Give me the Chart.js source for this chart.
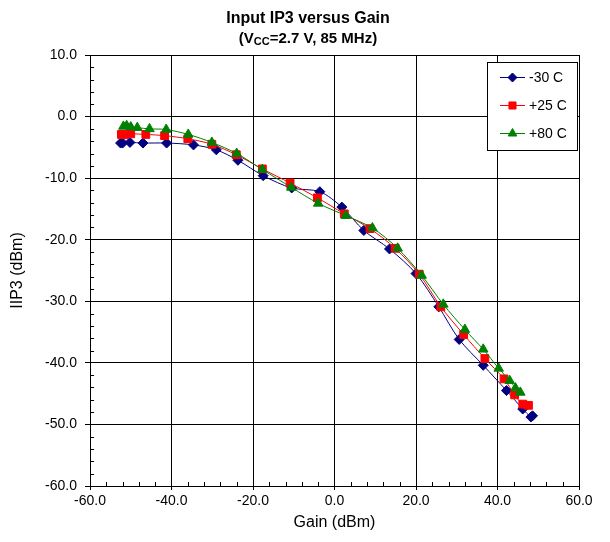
<!DOCTYPE html>
<html>
<head>
<meta charset="utf-8">
<script src="https://cdn.jsdelivr.net/npm/chart.js@4.4.0/dist/chart.umd.min.js"></script>
<style>
  html, body { margin: 0; padding: 0; background: #fff; }
  #wrap { position: relative; width: 610px; height: 542px; font-family: "Liberation Sans", Arial, sans-serif; }
  #c { position: absolute; left: 0; top: 0; }
  .ttl { position: absolute; left: 0; width: 616px; text-align: center; font-weight: bold; color: #000; white-space: nowrap; }
  #t1 { top: 9px; font-size: 16px; line-height: 18px; }
  #t2 { top: 29px; font-size: 15px; line-height: 17px; }
  #t2 sub { font-size: 11px; vertical-align: -2px; line-height: 0; }
</style>
</head>
<body>
<div id="wrap">
  <canvas id="c" width="610" height="542"></canvas>
  <div id="t1" class="ttl">Input IP3 versus Gain</div>
  <div id="t2" class="ttl">(V<sub>CC</sub>=2.7 V, 85 MHz)</div>
</div>
<script>
// ---- data ----
const seriesNames = ["-30 C", "+25 C", "+80 C"];

const gainM30 = [-52.5, -52.0, -50.2, -47.0, -41.2, -34.6, -29.0, -23.7, -17.5, -10.5, -3.6, 1.8, 7.2, 13.5, 20.0, 25.6, 30.6, 36.5, 42.2, 46.2, 48.2, 48.6];
const iip3M30 = [-4.3, -4.3, -4.2, -4.3, -4.3, -4.6, -5.4, -7.1, -9.6, -11.6, -12.2, -14.7, -18.5, -21.5, -25.5, -30.9, -36.2, -40.4, -44.5, -47.5, -48.8, -48.6];

const gainP25 = [-52.3, -51.5, -50.0, -46.3, -41.7, -36.0, -30.1, -24.1, -17.7, -10.9, -4.2, 2.4, 8.7, 14.9, 20.8, 26.1, 31.7, 36.9, 41.6, 44.2, 46.2, 47.6];
const iip3P25 = [-2.9, -2.9, -2.8, -2.9, -3.1, -3.6, -4.5, -6.2, -8.5, -10.8, -13.2, -15.8, -18.2, -21.4, -25.6, -30.9, -35.4, -39.3, -42.6, -45.2, -46.7, -46.9];

const gainP80 = [-51.8, -51.0, -50.0, -48.4, -45.4, -41.3, -35.9, -30.1, -24.0, -17.7, -10.6, -4.0, 2.8, 9.3, 15.5, 21.4, 26.7, 32.0, 36.5, 40.3, 43.0, 44.4, 45.6];
const iip3P80 = [-1.6, -1.5, -1.7, -1.8, -2.0, -2.1, -2.9, -4.2, -6.0, -8.6, -11.5, -14.1, -16.1, -18.1, -21.4, -25.8, -30.5, -34.6, -37.8, -40.9, -42.9, -44.1, -44.8];

const xTicks = [-60, -40, -20, 0, 20, 40, 60];
const yTicks = [10, 0, -10, -20, -30, -40, -50, -60];

function pts(xs, ys) { return xs.map((x, i) => ({ x: x, y: ys[i] })); }

const FONT = '"Liberation Sans", Arial, sans-serif';
const colors = ["#000080", "#FF0000", "#008000"];
const styles = ["rectRot", "rect", "triangle"];
const radii = [5, 5.5, 5.5];

// minor ticks + legend plugin
const extras = {
  id: 'extras',
  afterDraw(chart) {
    const ctx = chart.ctx;
    const xs = chart.scales.x, ys = chart.scales.y;
    const a = chart.chartArea;
    ctx.save();
    ctx.strokeStyle = '#000';
    ctx.lineWidth = 1;
    ctx.beginPath();
    for (let v = -60; v <= 10; v += 2) {
      if (v % 10 === 0) continue;
      const py = Math.round(ys.getPixelForValue(v)) + 0.5;
      ctx.moveTo(a.left, py); ctx.lineTo(a.left + 4, py);
    }
    for (let v = -60; v <= 60; v += 4) {
      if (v % 20 === 0) continue;
      const px = Math.round(xs.getPixelForValue(v)) + 0.5;
      ctx.moveTo(px, a.bottom); ctx.lineTo(px, a.bottom - 4);
    }
    ctx.stroke();

    // legend box
    const bx = 487.5, by = 62.5, bw = 90, bh = 88;
    ctx.fillStyle = '#fff';
    ctx.fillRect(bx, by, bw, bh);
    ctx.strokeStyle = '#000';
    ctx.strokeRect(bx, by, bw, bh);
    chart.data.datasets.forEach((ds, i) => {
      const cy = 77 + i * 28;
      ctx.strokeStyle = ds.borderColor;
      ctx.lineWidth = 1;
      ctx.beginPath();
      ctx.moveTo(500, cy + 0.5); ctx.lineTo(525, cy + 0.5);
      ctx.stroke();
      ctx.fillStyle = ds.borderColor;
      ctx.strokeStyle = ds.borderColor;
      Chart.helpers.drawPoint(ctx, {
        pointStyle: ds.pointStyle, radius: ds.pointRadius - 0.5, rotation: 0, borderWidth: 1
      }, 512.5, cy + 0.5);
      ctx.fillStyle = '#000';
      ctx.font = '14px ' + FONT;
      ctx.textBaseline = 'middle';
      ctx.textAlign = 'left';
      ctx.fillText(seriesNames[i], 529, cy + 1);
    });
    ctx.restore();
  }
};

const datasets = [
  { label: seriesNames[0], data: pts(gainM30, iip3M30), order: 3 },
  { label: seriesNames[1], data: pts(gainP25, iip3P25), order: 2 },
  { label: seriesNames[2], data: pts(gainP80, iip3P80), order: 1 }
].map((d, i) => Object.assign(d, {
  borderColor: colors[i],
  backgroundColor: colors[i],
  pointBackgroundColor: colors[i],
  pointBorderColor: colors[i],
  pointStyle: styles[i],
  pointRadius: radii[i],
  pointBorderWidth: 1,
  borderWidth: 1,
  showLine: true,
  tension: 0.3,
  fill: false
}));

new Chart(document.getElementById('c'), {
  type: 'scatter',
  data: { datasets: datasets },
  options: {
    responsive: false,
    animation: false,
    devicePixelRatio: 1,
    layout: { padding: { left: 0, top: 55, right: 31, bottom: 0 } },
    plugins: {
      legend: { display: false },
      title: { display: false },
      tooltip: { enabled: false }
    },
    scales: {
      x: {
        type: 'linear', min: -60, max: 60,
        afterBuildTicks: s => { s.ticks = xTicks.map(v => ({ value: v })); },
        afterFit: s => { s.height = 56; },
        grid: { color: '#000', lineWidth: 1, tickLength: 4, drawTicks: true },
        border: { color: '#000', width: 1 },
        ticks: { color: '#000', font: { family: FONT, size: 14 }, padding: 3, maxRotation: 0,
                 callback: v => Number(v).toFixed(1) },
        title: { display: true, text: 'Gain (dBm)', color: '#000', font: { family: FONT, size: 16 }, padding: { top: 0, bottom: 10 } }
      },
      y: {
        type: 'linear', min: -60, max: 10,
        afterBuildTicks: s => { s.ticks = yTicks.map(v => ({ value: v })); },
        afterFit: s => { s.width = 90; },
        grid: { color: '#000', lineWidth: 1, tickLength: 5, drawTicks: true },
        border: { color: '#000', width: 1 },
        ticks: { color: '#000', font: { family: FONT, size: 14 }, padding: 8,
                 callback: v => Number(v).toFixed(1) },
        title: { display: true, text: 'IIP3 (dBm)', color: '#000', font: { family: FONT, size: 16 }, padding: { top: 8, bottom: 0 } }
      }
    }
  },
  plugins: [extras]
});
</script>
</body>
</html>
